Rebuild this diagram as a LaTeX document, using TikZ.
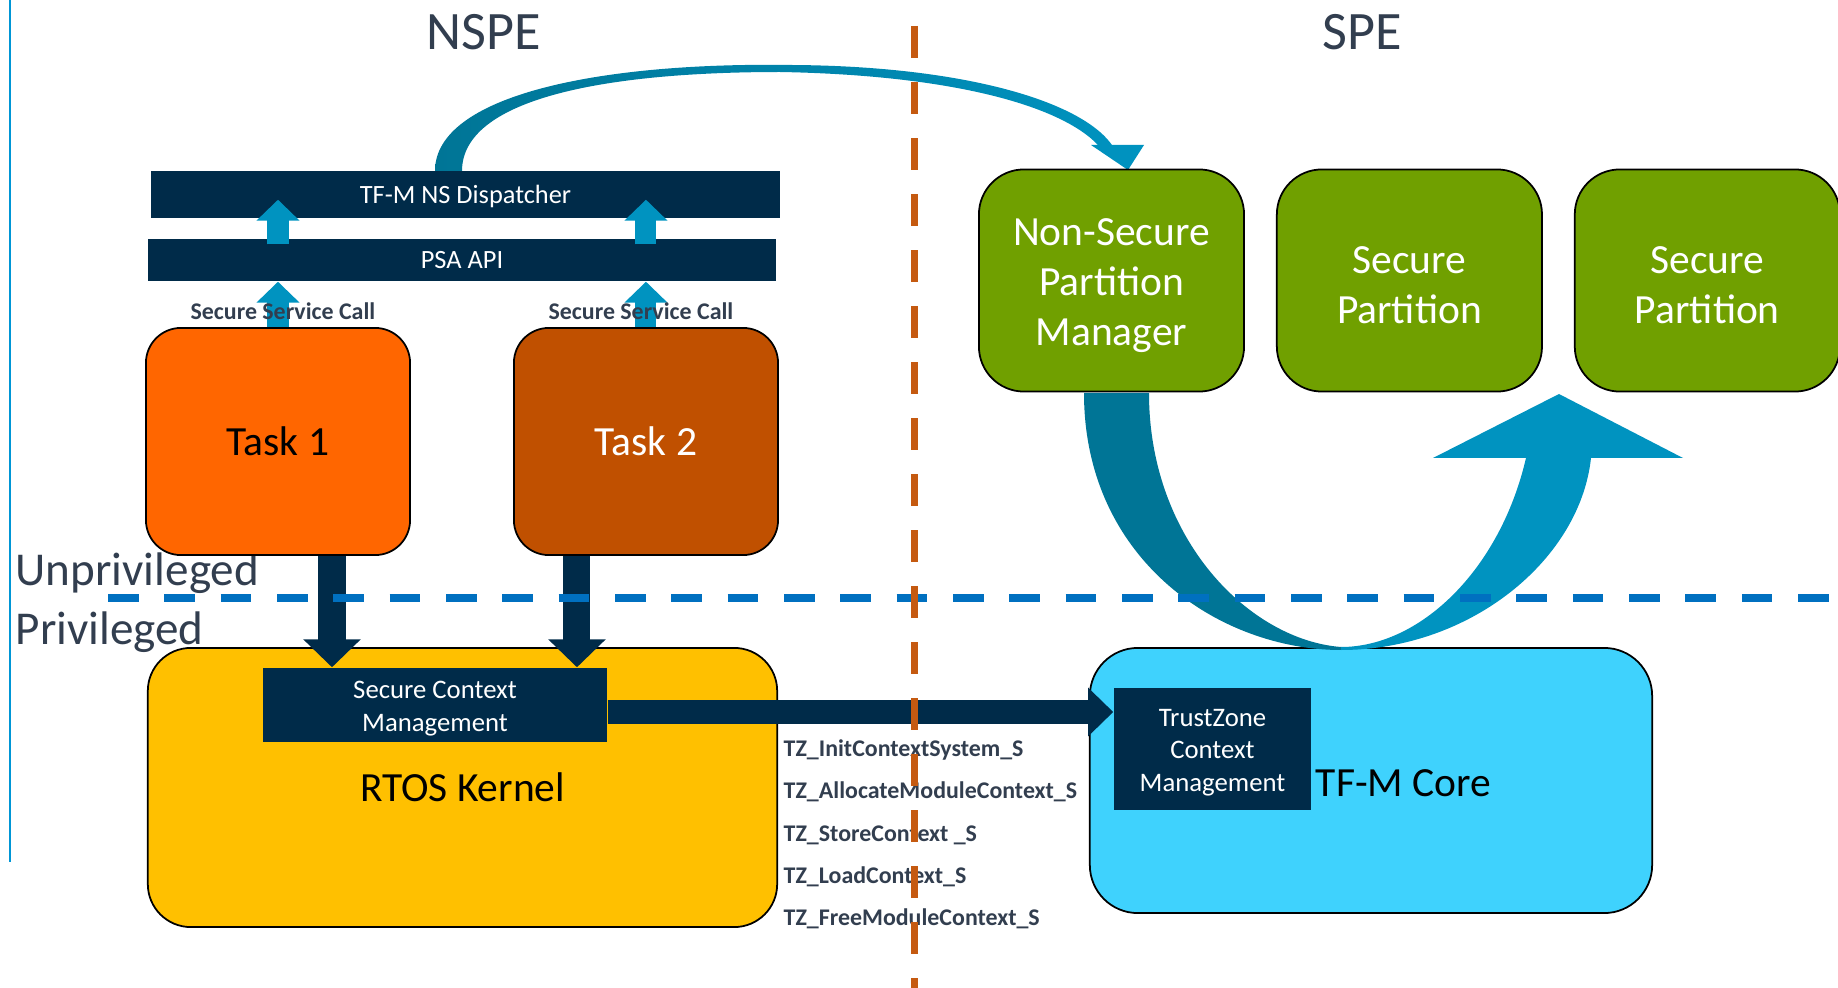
\documentclass[tikz,border=0pt]{standalone}
\usepackage{fontspec}
\setmainfont{Carlito}
\usepackage{tikz}
\usetikzlibrary{arrows.meta,positioning,calc}

\definecolor{navy}{RGB}{0,43,73}
\definecolor{callblue}{RGB}{0,147,192}
\definecolor{deepteal}{RGB}{0,117,150}
\definecolor{taskA}{RGB}{255,102,0}
\definecolor{taskB}{RGB}{192,80,0}
\definecolor{kernel}{RGB}{255,192,0}
\definecolor{core}{RGB}{63,210,253}
\definecolor{part}{RGB}{112,160,0}
\definecolor{worldcol}{RGB}{197,90,17}
\definecolor{privcol}{RGB}{0,112,192}
\definecolor{sidecol}{RGB}{0,150,214}
\definecolor{textgrey}{RGB}{50,62,79}

\tikzset{
  title/.style={inner sep=0pt, text=textgrey, font=\fontsize{15.4}{18}\selectfont},
  level/.style={inner sep=0pt, anchor=base west, text=textgrey, font=\fontsize{13.4}{16}\selectfont},
  bar/.style={fill=navy, inner sep=0pt, text=white, text depth=0pt, font=\fontsize{7.5}{9}\selectfont},
  ctx/.style={fill=navy, inner sep=0pt},
  ctxtxt/.style={inner sep=0pt, yshift=-0.035cm, text=white, align=center, font=\fontsize{7.6}{9.2}\selectfont},
  box/.style={draw=black, line width=0.5pt, inner sep=0pt, align=center, font=\fontsize{11.8}{14.2}\selectfont},
  task/.style={box, rounded corners=0.35cm, minimum width=2.64cm, minimum height=2.27cm},
  partbox/.style={box, fill=part, rounded corners=0.45cm, minimum width=2.65cm, minimum height=2.22cm},
  parttxt/.style={inner sep=0pt, yshift=-0.05cm, text=white, align=center, font=\fontsize{11.8}{14.2}\selectfont},
  call/.style={inner sep=0pt, text=textgrey, font=\fontsize{6.8}{8}\selectfont\bfseries},
  upblue/.style={callblue, line width=0.21cm, -{Triangle[width=0.42cm,length=0.21cm]}},
  downnavy/.style={navy, line width=0.27cm, -{Triangle[width=0.56cm,length=0.28cm]}},
  rightnavy/.style={navy, line width=0.24cm, -{Triangle[width=0.47cm,length=0.25cm]}},
  privline/.style={privcol, line width=0.07cm, dash pattern=on 8.68pt off 7.34pt},
  worldline/.style={worldcol, line width=0.07cm, dash pattern=on 9.1pt off 6.83pt},
}

\begin{document}
\begin{tikzpicture}[x=0.01cm,y=-0.01cm]
  \useasboundingbox (0,0) rectangle (1838,988);
  % 左侧竖线
  \draw[sidecol, line width=0.02cm] (10,0) -- (10,862);

  \node[title] (nspe) at (484,32) {NSPE};
  \node[title] (spe) at (1362,32) {SPE};
  \node[level] (unpriv) at (15,585.5) {Unprivileged};
  \node[level] (priv) at (15,644.5) {Privileged};

  % 从 Dispatcher 到 NSPM 的弯箭头
  \shade[left color=deepteal, right color=callblue]
    (435,171) .. controls (435,95) and (600,62) .. (792,65)
    .. controls (960,66) and (1080,100) .. (1112,145)
    -- (1144,145) -- (1128,170) -- (1091,145) -- (1098,145)
    .. controls (1060,105) and (950,75) .. (780,72)
    .. controls (600,72) and (462,100) .. (462,171) -- cycle;

  \node[bar, minimum width=6.29cm, minimum height=0.47cm] (disp) at (465.5,194.5) {TF-M NS Dispatcher};
  \node[bar, minimum width=6.28cm, minimum height=0.42cm] (psa) at (462,260) {PSA API};
  \node[task, fill=taskA, text=black] (task1) at (278,441.5) {Task 1};
  \node[task, fill=taskB, text=white, right=1.02cm of task1] (task2) {Task 2};

  \draw[upblue] ($(task1.north |- psa.north)+(0,6)$) -- ($(task1.north |- disp.south)+(0,-19)$);
  \draw[upblue] ($(task2.north |- psa.north)+(0,6)$) -- ($(task2.north |- disp.south)+(0,-19)$);
  \draw[upblue] (task1.north) -- (task1.north |- psa.south);
  \draw[upblue] (task2.north) -- (task2.north |- psa.south);
  \node[call] (call1) at (283,311) {Secure Service Call};
  \node[call] (call2) at (641,311) {Secure Service Call};

  \node[box, fill=kernel, rounded corners=0.43cm, minimum width=6.29cm, minimum height=2.79cm] (rtos) at (462.5,787.5) {RTOS Kernel};
  \node[ctx, minimum width=3.44cm, minimum height=0.74cm,
    label={[ctxtxt]center:Secure Context\\Management}] (scm) at (435,705) {};

  \node[partbox, label={[parttxt]center:Non-Secure\\Partition\\Manager}] (nspm) at (1111.5,280.5) {};
  \node[partbox, right=0.31cm of nspm, label={[parttxt]center:Secure\\Partition}] (sp1) {};
  \node[partbox, right=0.31cm of sp1, label={[parttxt]center:Secure\\Partition}] (sp2) {};

  \node[box, fill=core, rounded corners=0.48cm, minimum width=5.62cm, minimum height=2.65cm] (tfm) at (1371,780.5) {};
  \node[ctx, minimum width=1.97cm, minimum height=1.22cm,
    label={[ctxtxt]center:TrustZone\\Context\\Management}] (tz) at (1212.5,749) {};
  \node[box, draw=none, anchor=base west] (coretxt) at (1315,797) {TF-M Core};

  % U 形箭头：左半深色，右半浅色
  \fill[deepteal] (1084,393) .. controls (1084,560) and (1220,650) .. (1341,650)
    -- (1341,647) .. controls (1250,640) and (1149,540) .. (1149,393) -- cycle;
  \fill[callblue] (1341,650) .. controls (1470,650) and (1580,560) .. (1591,458)
    -- (1683,458) -- (1559,394) -- (1433,458) -- (1526,458)
    .. controls (1500,570) and (1420,647) .. (1341,647) -- cycle;

  \draw[downnavy] ($(task1.south)+(54,0)$) coordinate (a1) -- (a1 |- scm.north);
  \draw[downnavy] ($(task2.south)+(-69,0)$) coordinate (a2) -- (a2 |- scm.north);
  \draw[rightnavy] ([yshift=-0.07cm]scm.east) coordinate (a3) -- (a3 -| tz.west);

  \node[call, anchor=west] (tz1) at (783,750) {TZ\_InitContextSystem\_S};
  \node[call, anchor=west] (tz2) at (783,792) {TZ\_AllocateModuleContext\_S};
  \node[call, anchor=west] (tz3) at (783,835) {TZ\_StoreContext \_S};
  \node[call, anchor=west] (tz4) at (783,877) {TZ\_LoadContext\_S};
  \node[call, anchor=west] (tz5) at (783,919) {TZ\_FreeModuleContext\_S};

  \draw[privline] (108,598) -- (1838,598);
  \draw[worldline] (914,26) -- (914,988);
\end{tikzpicture}
\end{document}
